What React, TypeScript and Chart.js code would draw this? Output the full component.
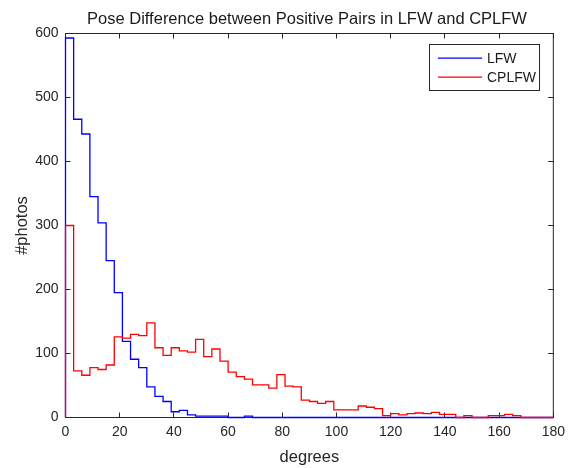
import React, { useEffect, useRef } from "react";
import { Chart, registerables } from "chart.js";

Chart.register(...registerables);

// Histogram bins: 3-degree bins from 0 to 180
const BIN_WIDTH = 3;
const X_MIN = 0;
const X_MAX = 180;
const X_TICK_STEP = 20;
const Y_MAX = 600;
const Y_TICK_STEP = 100;

const TITLE = "Pose Difference between Positive Pairs in LFW and CPLFW";
const X_LABEL = "degrees";
const Y_LABEL = "#photos";

const SERIES_LABELS = ["LFW", "CPLFW"];

// counts per 3-degree bin (60 bins)
const lfwCounts = [
  593, 466, 443, 345, 304, 245, 195, 119, 91, 78,
  48, 33, 25, 9, 11, 4, 2, 2, 2, 2,
  0, 0, 2, 0, 0, 0, 0, 0, 0, 0,
  0, 0, 0, 0, 0, 0, 0, 0, 0, 0,
  0, 0, 0, 0, 0, 0, 0, 0, 0, 0,
  0, 0, 0, 0, 0, 0, 0, 0, 0, 0,
];

const cplfwCounts = [
  300, 73, 66, 78, 75, 82, 126, 124, 130, 128,
  148, 109, 97, 109, 104, 102, 122, 95, 107, 88,
  71, 64, 60, 51, 51, 46, 67, 49, 48, 27,
  25, 22, 25, 12, 12, 12, 18, 16, 14, 3,
  6, 4, 6, 7, 6, 8, 5, 5, 0, 3,
  0, 0, 3, 3, 5, 3, 0, 0, 0, 0,
];

const FONT = '"Liberation Sans", Arial, Helvetica, sans-serif';
const AXIS_COLOR = "#262626";
const LFW_COLOR = "#0000ff";
const CPLFW_COLOR = "#ff0000";

function toStairs(counts: number[]) {
  const pts: { x: number; y: number }[] = [{ x: X_MIN, y: 0 }];
  counts.forEach((c, i) => pts.push({ x: X_MIN + i * BIN_WIDTH, y: c }));
  pts.push({ x: X_MIN + counts.length * BIN_WIDTH, y: 0 });
  return pts;
}

const decorPlugin = {
  id: "decor",
  beforeDatasetsDraw(chart: any) {
    const { ctx, chartArea, scales } = chart;
    const { left, right, top, bottom } = chartArea;
    ctx.save();
    ctx.strokeStyle = AXIS_COLOR;
    ctx.lineWidth = 1;
    ctx.strokeRect(left, top, right - left, bottom - top);
    const len = 5;
    ctx.beginPath();
    scales.x.ticks.forEach((t: any) => {
      const px = Math.round(scales.x.getPixelForValue(t.value) - 0.5) + 0.5;
      ctx.moveTo(px, bottom);
      ctx.lineTo(px, bottom - len);
      ctx.moveTo(px, top);
      ctx.lineTo(px, top + len);
    });
    scales.y.ticks.forEach((t: any) => {
      const py = Math.round(scales.y.getPixelForValue(t.value) - 0.5) + 0.5;
      ctx.moveTo(left, py);
      ctx.lineTo(left + len, py);
      ctx.moveTo(right, py);
      ctx.lineTo(right - len, py);
    });
    ctx.stroke();
    ctx.restore();
  },
  afterDraw(chart: any) {
    const { ctx } = chart;
    ctx.save();
    // title
    ctx.fillStyle = "#1a1a1a";
    ctx.font = `16.5px ${FONT}`;
    ctx.textAlign = "center";
    ctx.textBaseline = "alphabetic";
    ctx.fillText(TITLE, 307, 24);

    // legend
    const bx = 429.5, by = 44.5, bw = 110, bh = 46;
    ctx.fillStyle = "#ffffff";
    ctx.fillRect(bx, by, bw, bh);
    ctx.strokeStyle = AXIS_COLOR;
    ctx.lineWidth = 1;
    ctx.strokeRect(bx, by, bw, bh);
    const rows = [58.2, 77.2];
    chart.data.datasets.forEach((ds: any, i: number) => {
      const y = rows[i];
      ctx.strokeStyle = ds.borderColor;
      ctx.lineWidth = 1.3;
      ctx.beginPath();
      ctx.moveTo(438, y);
      ctx.lineTo(482, y);
      ctx.stroke();
      ctx.fillStyle = "#1a1a1a";
      ctx.font = `14px ${FONT}`;
      ctx.textAlign = "left";
      ctx.textBaseline = "middle";
      ctx.fillText(ds.label, 487, y + 0.8);
    });
    ctx.restore();
  },
};

export default function App() {
  const canvasRef = useRef<HTMLCanvasElement | null>(null);

  useEffect(() => {
    if (!canvasRef.current) return;
    const chart = new Chart(canvasRef.current, {
      type: "line",
      data: {
        datasets: [
          {
            label: SERIES_LABELS[0],
            data: toStairs(lfwCounts),
            borderColor: LFW_COLOR,
            borderWidth: 1.3,
            pointRadius: 0,
            stepped: "before",
            fill: false,
            clip: false as any,
            order: 1,
          },
          {
            label: SERIES_LABELS[1],
            data: toStairs(cplfwCounts),
            borderColor: CPLFW_COLOR,
            borderWidth: 1.3,
            pointRadius: 0,
            stepped: "before",
            fill: false,
            clip: false as any,
            order: 0,
          },
        ],
      },
      options: {
        animation: false,
        responsive: false,
        devicePixelRatio: 1,
        layout: { padding: { top: 33.5, right: 17.5, bottom: 0, left: 0 } },
        plugins: {
          legend: { display: false },
          title: { display: false },
          tooltip: { enabled: false },
        },
        scales: {
          x: {
            type: "linear",
            min: X_MIN,
            max: X_MAX,
            grid: { display: false, drawTicks: false },
            border: { display: false },
            ticks: {
              stepSize: X_TICK_STEP,
              color: AXIS_COLOR,
              font: { family: FONT, size: 14 },
              padding: 6,
              maxRotation: 0,
            },
            title: {
              display: true,
              text: X_LABEL,
              color: AXIS_COLOR,
              font: { family: FONT, size: 16.5 },
              padding: { top: 0, bottom: 1 },
            },
            afterFit: (scale: any) => {
              scale.height = 50.5;
            },
          },
          y: {
            type: "linear",
            min: 0,
            max: Y_MAX,
            grid: { display: false, drawTicks: false },
            border: { display: false },
            ticks: {
              stepSize: Y_TICK_STEP,
              color: AXIS_COLOR,
              font: { family: FONT, size: 14 },
              padding: 7,
            },
            title: {
              display: true,
              text: Y_LABEL,
              color: AXIS_COLOR,
              font: { family: FONT, size: 16.5 },
              padding: { top: 13, bottom: 0 },
            },
            afterFit: (scale: any) => {
              scale.width = 65.5;
            },
          },
        },
      },
      plugins: [decorPlugin],
    });
    return () => chart.destroy();
  }, []);

  return (
    <div style={{ position: "fixed", left: 0, top: 0, width: 571, height: 468, background: "#ffffff" }}>
      <canvas ref={canvasRef} width={571} height={468} style={{ width: 571, height: 468, display: "block" }} />
    </div>
  );
}
